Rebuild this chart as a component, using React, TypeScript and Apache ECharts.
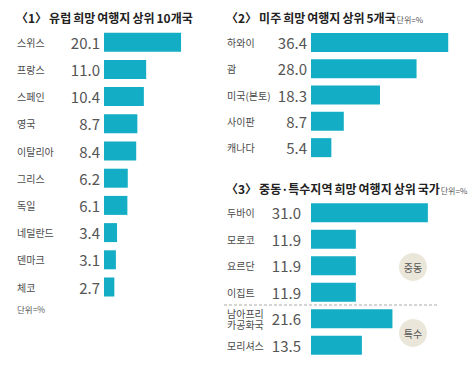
import React, { useEffect, useRef } from "react";
import * as echarts from "echarts";

const europeNames = ["스위스", "프랑스", "스페인", "영국", "이탈리아", "그리스", "독일", "네덜란드", "덴마크", "체코"];
const europeValues = [20.1, 11.0, 10.4, 8.7, 8.4, 6.2, 6.1, 3.4, 3.1, 2.7];

const americaNames = ["하와이", "괌", "미국(본토)", "사이판", "캐나다"];
const americaValues = [36.4, 28.0, 18.3, 8.7, 5.4];

const specialNames = ["두바이", "모로코", "요르단", "이집트", "남아프리\n카공화국", "모리셔스"];
const specialValues = [31.0, 11.9, 11.9, 11.9, 21.6, 13.5];

const titles = [
  "〈1〉 유럽 희망 여행지 상위 10개국",
  "〈2〉 미주 희망 여행지 상위 5개국",
  "〈3〉 중동·특수지역 희망 여행지 상위 국가",
];
const unitText = "단위=%";
const groupLabels = ["중동", "특수"];

const FONT = "'Noto Sans CJK KR', 'Noto Sans', sans-serif";
const BAR = "#13aec6";

function richTitle(t: string, withUnit: boolean) {
  const parts = t.split(" ");
  const body = parts.map((p) => `{t|${p}}`).join("{s| }");
  return withUnit ? `${body}{g| }{u|${unitText}}` : body;
}

export default function App() {
  const ref = useRef<HTMLDivElement>(null);
  useEffect(() => {
    if (!ref.current) return;
    const chart = echarts.init(ref.current, undefined, { renderer: "svg" });
    const mkY = (idx: number, data: string[], margin: number, lh: number) => ({
      type: "category",
      gridIndex: idx,
      data,
      inverse: true,
      axisLine: { show: false },
      axisTick: { show: false },
      axisLabel: {
        align: "left",
        margin,
        fontSize: 10,
        color: "#4a4a4a",
        fontFamily: FONT,
        lineHeight: lh,
      },
    });
    const mkX = (idx: number, max: number) => ({
      type: "value",
      gridIndex: idx,
      min: 0,
      max,
      show: false,
      splitLine: { show: false },
    });
    const mkS = (idx: number, data: number[], dist: number) => ({
      type: "bar",
      xAxisIndex: idx,
      yAxisIndex: idx,
      data,
      barWidth: 19,
      itemStyle: { color: BAR },
      label: {
        show: true,
        position: "left",
        distance: dist,
        fontSize: 15,
        color: "#555",
        fontFamily: FONT,
        formatter: (p: any) => Number(p.value).toFixed(1),
      },
    });
    const rich = {
      t: { fontSize: 12, fontWeight: "bold", fill: "#222", fontFamily: FONT },
      s: { fontSize: 9, fill: "#222", fontFamily: FONT },
      g: { fontSize: 4, fill: "#222", fontFamily: FONT },
      u: { fontSize: 8, fill: "#555", fontFamily: FONT, verticalAlign: "bottom" },
    };
    const titleStyle = (x: number, y: number, t: string, withUnit: boolean) => ({
      type: "text",
      x,
      y,
      style: {
        text: richTitle(t, withUnit),
        verticalAlign: "middle",
        rich,
      },
    });
    const circle = (cy: number, t: string) => ({
      type: "group",
      children: [
        { type: "circle", shape: { cx: 413, cy, r: 14 }, style: { fill: "#ebe6da" } },
        {
          type: "text",
          x: 413,
          y: cy,
          style: { text: t, fontSize: 10, fill: "#555", align: "center", verticalAlign: "middle", fontFamily: FONT },
        },
      ],
    });
    chart.setOption({
      animation: false,
      backgroundColor: "#fff",
      grid: [
        { left: 104, top: 28.6, height: 272, width: 115 },
        { left: 311, top: 29.3, height: 131.5, width: 150.8 },
        { left: 311, top: 199.5, height: 159, width: 150.8 },
      ],
      xAxis: [mkX(0, 30), mkX(1, 40), mkX(2, 40)],
      yAxis: [
        mkY(0, europeNames, 87, 11),
        mkY(1, americaNames, 84, 11),
        mkY(2, specialNames, 84, 11),
      ],
      series: [mkS(0, europeValues, 4), mkS(1, americaValues, 4), mkS(2, specialValues, 10)],
      graphic: [
        titleStyle(16, 17, titles[0], false),
        titleStyle(226, 17.5, titles[1], true),
        titleStyle(226, 188, titles[2], true),
        {
          type: "text",
          x: 17,
          y: 309,
          style: { text: unitText, fontSize: 8.5, fill: "#555", fontFamily: FONT, verticalAlign: "middle" },
        },
        {
          type: "line",
          shape: { x1: 224, y1: 305, x2: 437, y2: 305 },
          style: { stroke: "#aaa", lineWidth: 1, lineDash: [3, 2] },
        },
        circle(267, groupLabels[0]),
        circle(333, groupLabels[1]),
      ],
    });
    return () => chart.dispose();
  }, []);
  return <div ref={ref} style={{ position: "fixed", left: 0, top: 0, width: 474, height: 377 }} />;
}
